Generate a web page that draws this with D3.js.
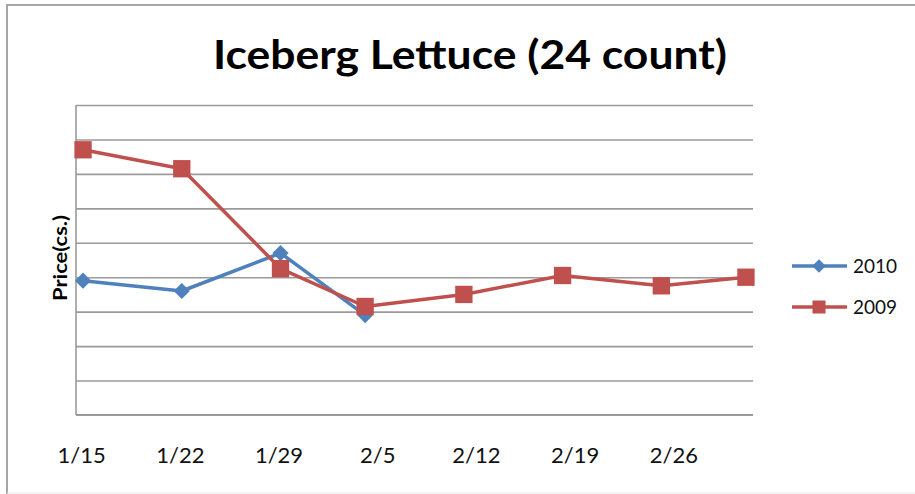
<!DOCTYPE html>
<html>
<head>
<meta charset="utf-8">
<script src="https://cdn.jsdelivr.net/npm/d3@7"></script>
<style>
  body { margin: 0; background: #fff; }
  text { font-family: Lato, "Open Sans", sans-serif; }
</style>
</head>
<body>
<div id="chart"></div>
<script>
// week dates of the price reports
var dates = ["2010-01-15", "2010-01-22", "2010-01-29", "2010-02-04",
             "2010-02-11", "2010-02-18", "2010-02-25", "2010-03-03"];
var price2010 = [7.8, 7.2, 9.4, 5.8];
var price2009 = [15.4, 14.3, 8.5, 6.3, 7.0, 8.1, 7.5, 8.0];
var tickDates = ["2010-01-15", "2010-01-22", "2010-01-29", "2010-02-05",
                 "2010-02-12", "2010-02-19", "2010-02-26"];
var seriesNames = ["2010", "2009"];
var seriesColors = ["#4F81BD", "#C0504D"];

var parse = d3.timeParse("%Y-%m-%d");
var fmt = d3.timeFormat("%-m/%-d");
// put each point in the middle of its day slot
var mid = function(s) { return d3.timeHour.offset(parse(s), 12); };

var W = 915, H = 494;
var plot = { left: 76, right: 753, top: 105, bottom: 415 };

var svg = d3.select("#chart")
  .append("svg")
  .attr("width", W)
  .attr("height", H);

// outer chart border (left + top heavy, bottom faint)
svg.append("path")
  .attr("d", "M7,494 L7,5 L915,5")
  .style("fill", "none")
  .style("stroke", "#a6a6a6")
  .style("stroke-width", 2);
svg.append("line")
  .attr("x1", 7).attr("x2", 915).attr("y1", 493).attr("y2", 493)
  .style("stroke", "#ececec");

var x = d3.scaleTime()
  .domain([parse("2010-01-15"), parse("2010-03-04")])
  .range([plot.left, plot.right]);

var y = d3.scaleLinear()
  .domain([0, 18])
  .range([plot.bottom, plot.top]);

// gridlines
var grid = svg.append("g")
  .attr("transform", "translate(" + plot.left + ",0)")
  .call(d3.axisLeft(y).tickValues(d3.range(2, 19, 2))
    .tickSize(-(plot.right - plot.left)).tickFormat(""));
grid.select(".domain").remove();
grid.selectAll(".tick line")
  .style("stroke", "#9a9a9a")
  .style("stroke-width", 1.6);

// axis lines
svg.append("line")
  .attr("x1", plot.left).attr("x2", plot.left)
  .attr("y1", plot.top).attr("y2", plot.bottom)
  .style("stroke", "#9a9a9a").style("stroke-width", 1.6);
svg.append("line")
  .attr("x1", plot.left).attr("x2", plot.right)
  .attr("y1", plot.bottom).attr("y2", plot.bottom)
  .style("stroke", "#9a9a9a").style("stroke-width", 2);

// x labels
var xAxis = svg.append("g")
  .attr("transform", "translate(0," + plot.bottom + ")")
  .call(d3.axisBottom(x).tickValues(tickDates.map(mid))
    .tickSize(0).tickPadding(32).tickFormat(fmt));
xAxis.select(".domain").remove();
xAxis.selectAll("text")
  .attr("dx", -2)
  .style("font-family", "Lato, sans-serif")
  .style("font-size", "22px")
  .style("fill", "#111");

// title
svg.append("text")
  .attr("x", 470)
  .attr("y", 69)
  .attr("text-anchor", "middle")
  .attr("textLength", 514)
  .attr("lengthAdjust", "spacingAndGlyphs")
  .style("font-size", "40px")
  .style("font-weight", "bold")
  .style("fill", "#000")
  .text("Iceberg Lettuce (24 count)");

// y title
svg.append("text")
  .attr("transform", "translate(67,258) rotate(-90)")
  .attr("text-anchor", "middle")
  .attr("textLength", 86)
  .attr("lengthAdjust", "spacingAndGlyphs")
  .style("font-size", "19px")
  .style("font-weight", "bold")
  .style("fill", "#000")
  .text("Price(cs.)");

var line = d3.line()
  .x(function(d) { return x(mid(d.date)); })
  .y(function(d) { return y(d.value); });

var series = [price2010, price2009].map(function(vals, i) {
  return {
    name: seriesNames[i],
    color: seriesColors[i],
    points: vals.map(function(v, j) { return { date: dates[j], value: v }; })
  };
});

var diamond = d3.symbol().type(d3.symbolSquare).size(130);
var square = d3.symbol().type(d3.symbolSquare).size(300);

// draw 2010 first so 2009 sits on top
series.forEach(function(s, i) {
  svg.append("path")
    .datum(s.points)
    .attr("d", line)
    .style("fill", "none")
    .style("stroke", s.color)
    .style("stroke-width", 3.5)
    .style("stroke-linejoin", "round");

  svg.selectAll(".m" + i)
    .data(s.points)
    .enter()
    .append("path")
    .attr("class", "m" + i)
    .attr("d", i == 0 ? diamond : square)
    .attr("transform", function(d) {
      return "translate(" + x(mid(d.date)) + "," + y(d.value) + ")" + (i == 0 ? " rotate(45)" : "");
    })
    .style("fill", s.color);
});

// legend
var legend = svg.selectAll(".legend")
  .data(series)
  .enter()
  .append("g")
  .attr("class", "legend")
  .attr("transform", function(d, i) { return "translate(792," + (266 + i * 41) + ")"; });

legend.append("line")
  .attr("x1", 0).attr("x2", 55)
  .style("stroke", function(d) { return d.color; })
  .style("stroke-width", 3.5);
legend.append("path")
  .attr("d", function(d, i) {
    return d3.symbol().type(d3.symbolSquare).size(i == 0 ? 90 : 170)();
  })
  .attr("transform", function(d, i) { return "translate(27,0)" + (i == 0 ? " rotate(45)" : ""); })
  .style("fill", function(d) { return d.color; });
legend.append("text")
  .attr("x", 61)
  .attr("y", 7)
  .style("font-size", "19px")
  .style("fill", "#111")
  .text(function(d) { return d.name; });
</script>
</body>
</html>
